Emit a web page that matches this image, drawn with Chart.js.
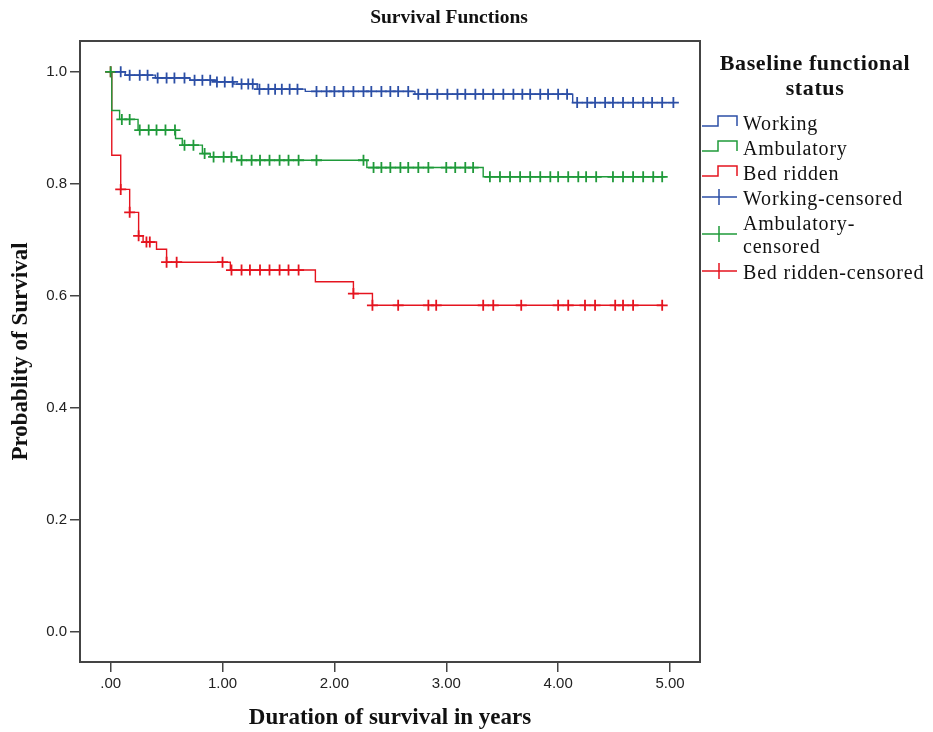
<!DOCTYPE html>
<html>
<head>
<meta charset="utf-8">
<title>Survival Functions</title>
<script src="https://cdn.jsdelivr.net/npm/chart.js@4.4.1/dist/chart.umd.min.js"></script>
<style>
    html, body { margin: 0; padding: 0; background: #fff; }
    #wrap { width: 933px; height: 732px; }
</style>
</head>
<body>
<div id="wrap"><canvas id="survivalChart" width="933" height="732"></canvas></div>
<script>
// Kaplan-Meier steps: time of each drop and survival after it
const workingTimes = [0, 0.13, 0.40, 0.71, 0.95, 1.10, 1.31, 1.74, 2.72, 4.13, 5.04];
const workingSurv  = [1.0, 0.994, 0.989, 0.985, 0.982, 0.978, 0.969, 0.965, 0.960, 0.945, 0.945];

const ambTimes = [0, 0.01, 0.08, 0.245, 0.58, 0.64, 0.82, 0.89, 1.13, 2.29, 3.33, 4.96];
const ambSurv  = [1.0, 0.931, 0.915, 0.896, 0.881, 0.869, 0.854, 0.848, 0.842, 0.829, 0.8125, 0.8125];

const bedTimes = [0, 0.01, 0.09, 0.17, 0.25, 0.29, 0.41, 0.50, 1.07, 1.83, 2.17, 2.34, 4.94];
const bedSurv  = [1.0, 0.851, 0.790, 0.749, 0.707, 0.696, 0.683, 0.660, 0.646, 0.625, 0.604, 0.583, 0.583];

// censored cases (years)
const workingCensored = [0.09, 0.17, 0.26, 0.33, 0.42, 0.50, 0.57, 0.66, 0.75, 0.82, 0.89, 0.95, 1.02, 1.09,
    1.17, 1.23, 1.27, 1.33, 1.41, 1.47, 1.53, 1.60, 1.67, 1.84, 1.93, 2.00, 2.08, 2.17, 2.26, 2.33, 2.42,
    2.50, 2.57, 2.66, 2.75, 2.83, 2.92, 3.01, 3.10, 3.17, 3.26, 3.33, 3.42, 3.51, 3.60, 3.68, 3.75, 3.84,
    3.91, 4.00, 4.08, 4.17, 4.26, 4.33, 4.42, 4.49, 4.58, 4.67, 4.76, 4.84, 4.93, 5.03];
const ambCensored = [0, 0.10, 0.17, 0.26, 0.34, 0.41, 0.49, 0.575, 0.66, 0.74, 0.84, 0.92, 1.01, 1.08, 1.17,
    1.26, 1.335, 1.42, 1.51, 1.59, 1.68, 1.84, 2.26, 2.35, 2.42, 2.50, 2.59, 2.66, 2.75, 2.84, 3.00, 3.08,
    3.17, 3.24, 3.39, 3.48, 3.57, 3.66, 3.75, 3.84, 3.93, 4.00, 4.09, 4.18, 4.25, 4.34, 4.49, 4.58, 4.67,
    4.76, 4.85, 4.93];
const bedCensored = [0, 0.09, 0.17, 0.25, 0.32, 0.35, 0.50, 0.59, 1.00, 1.08, 1.17, 1.245, 1.335, 1.42,
    1.51, 1.59, 1.68, 2.17, 2.34, 2.57, 2.84, 2.91, 3.33, 3.42, 3.67, 4.00, 4.09, 4.24, 4.33, 4.51, 4.58,
    4.67, 4.93];

const xTickValues = [0, 1, 2, 3, 4, 5];
const xTickLabels = ['.00', '1.00', '2.00', '3.00', '4.00', '5.00'];
const yTickValues = [0, 0.2, 0.4, 0.6, 0.8, 1.0];
const yTickLabels = ['0.0', '0.2', '0.4', '0.6', '0.8', '1.0'];

const groupNames = ['Working', 'Ambulatory', 'Bed ridden'];
const legendTitle = ['Baseline functional', 'status'];
const legendLabels = [['Working'], ['Ambulatory'], ['Bed ridden'], ['Working-censored'], ['Ambulatory-', 'censored'], ['Bed ridden-censored']];

const BLUE = '#2c4fa6';
const GREEN = '#1f9a3a';
const RED = '#e5141f';
const legendColors = [BLUE, GREEN, RED, BLUE, GREEN, RED];
const legendKinds = ['step', 'step', 'step', 'cross', 'cross', 'cross'];

const SERIF = '"Liberation Serif", "Times New Roman", serif';
const SANS = '"Liberation Sans", Arial, sans-serif';

function survivalAt(times, surv, t) {
    let s = surv[0];
    for (let i = 0; i < times.length; i++) {
        if (times[i] <= t) s = surv[i];
    }
    return s;
}

function curvePoints(times, surv) {
    return times.map((t, i) => ({ x: t, y: surv[i] }));
}

function censorPoints(times, surv, marks) {
    return marks.map(t => ({ x: t, y: survivalAt(times, surv, t) }));
}

function stepLine(label, data, color) {
    return {
        label: label,
        data: data,
        stepped: true,
        borderColor: color,
        borderWidth: 1.4,
        pointRadius: 0,
        fill: false,
        order: 2
    };
}

function censorMarks(label, data, color) {
    return {
        label: label,
        data: data,
        showLine: false,
        pointStyle: 'cross',
        pointRadius: 5.5,
        pointBorderWidth: 1.8,
        borderColor: color,
        pointBorderColor: color,
        backgroundColor: color,
        order: 1
    };
}

// frame, title and the SPSS-style legend on the right
const extrasPlugin = {
    id: 'extras',
    beforeDatasetsDraw(chart) {
        const { ctx, chartArea: a } = chart;
        ctx.save();
        ctx.strokeStyle = '#444';
        ctx.lineWidth = 2;
        ctx.strokeRect(a.left, a.top, a.right - a.left, a.bottom - a.top);
        ctx.restore();
    },
    afterDraw(chart) {
        const ctx = chart.ctx;
        ctx.save();
        ctx.fillStyle = '#111';
        ctx.textBaseline = 'middle';

        ctx.textAlign = 'center';
        ctx.font = 'bold 19.5px ' + SERIF;
        ctx.fillText('Survival Functions', 449, 18);

        ctx.font = 'bold 22px ' + SERIF;
        if ('letterSpacing' in ctx) ctx.letterSpacing = '0.6px';
        ctx.fillText(legendTitle[0], 815, 64);
        ctx.fillText(legendTitle[1], 815, 89);

        ctx.textAlign = 'left';
        ctx.font = '20px ' + SERIF;
        if ('letterSpacing' in ctx) ctx.letterSpacing = '0.8px';
        let y = 123;
        legendLabels.forEach((lines, i) => {
            const mid = y + (lines.length - 1) * 12;
            ctx.strokeStyle = legendColors[i];
            ctx.lineWidth = 1.5;
            ctx.beginPath();
            if (legendKinds[i] === 'step') {
                ctx.moveTo(702, y + 3);
                ctx.lineTo(718, y + 3);
                ctx.lineTo(718, y - 7);
                ctx.lineTo(737, y - 7);
                ctx.lineTo(737, y + 3);
            } else {
                ctx.moveTo(702, mid - 1);
                ctx.lineTo(737, mid - 1);
                ctx.moveTo(719, mid - 9);
                ctx.lineTo(719, mid + 7);
            }
            ctx.stroke();
            lines.forEach((txt, k) => ctx.fillText(txt, 743, y + 2 + k * 23));
            y += 25 + (lines.length - 1) * 24;
        });
        ctx.restore();
    }
};

const ctx = document.getElementById('survivalChart').getContext('2d');
const survivalChart = new Chart(ctx, {
    type: 'line',
    data: {
        datasets: [
            stepLine(groupNames[0], curvePoints(workingTimes, workingSurv), BLUE),
            stepLine(groupNames[1], curvePoints(ambTimes, ambSurv), GREEN),
            stepLine(groupNames[2], curvePoints(bedTimes, bedSurv), RED),
            censorMarks(groupNames[0] + '-censored', censorPoints(workingTimes, workingSurv, workingCensored), BLUE),
            censorMarks(groupNames[1] + '-censored', censorPoints(ambTimes, ambSurv, ambCensored), GREEN),
            censorMarks(groupNames[2] + '-censored', censorPoints(bedTimes, bedSurv, bedCensored), RED)
        ]
    },
    options: {
        responsive: false,
        animation: false,
        events: [],
        layout: { padding: { top: 41, right: 233, left: 0, bottom: 0 } },
        plugins: {
            legend: { display: false },
            title: { display: false },
            tooltip: { enabled: false }
        },
        scales: {
            x: {
                type: 'linear',
                min: -0.274,
                max: 5.268,
                afterBuildTicks: s => { s.ticks = xTickValues.map(v => ({ value: v })); },
                afterFit: s => { s.height = 70; },
                ticks: {
                    autoSkip: false,
                    maxRotation: 0,
                    padding: 3,
                    color: '#222',
                    font: { family: SANS, size: 15 },
                    callback: (v, i) => xTickLabels[i]
                },
                grid: { drawOnChartArea: false, drawTicks: true, tickLength: 10, color: '#444', lineWidth: 1.5 },
                border: { display: true, color: '#444', width: 2 },
                title: {
                    display: true,
                    text: 'Duration of survival in years',
                    color: '#111',
                    font: { family: SERIF, size: 23, weight: 'bold' },
                    padding: { top: 0, bottom: 0 }
                }
            },
            y: {
                type: 'linear',
                min: -0.054,
                max: 1.055,
                afterBuildTicks: s => { s.ticks = yTickValues.map(v => ({ value: v })); },
                afterFit: s => { s.width = 80; },
                ticks: {
                    autoSkip: false,
                    padding: 3,
                    color: '#222',
                    font: { family: SANS, size: 15 },
                    callback: (v, i) => yTickLabels[i]
                },
                grid: { drawOnChartArea: false, drawTicks: true, tickLength: 10, color: '#444', lineWidth: 1.5 },
                border: { display: true, color: '#444', width: 2 },
                title: {
                    display: true,
                    text: 'Probablity of Survival',
                    color: '#111',
                    font: { family: SERIF, size: 23, weight: 'bold' },
                    padding: { top: 7, bottom: 0 }
                }
            }
        }
    },
    plugins: [extrasPlugin]
});
</script>
</body>
</html>
